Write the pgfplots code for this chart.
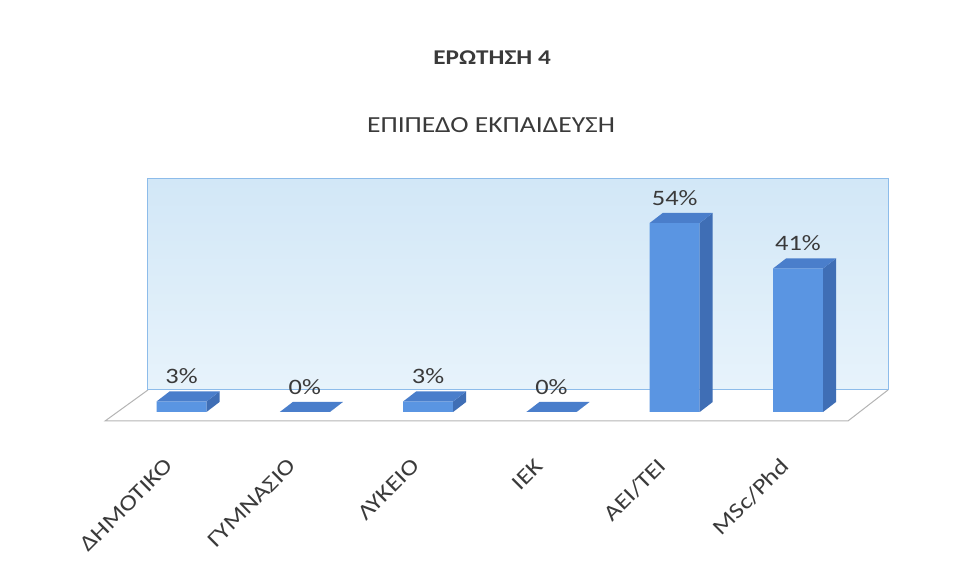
\documentclass[border=0pt]{standalone}
\usepackage{pgfplots}
\pgfplotsset{compat=1.18}
\usepackage{fontspec}
\setmainfont{Carlito}[FakeStretch=1.2]

\definecolor{wallA}{HTML}{D2E7F7}
\definecolor{wallB}{HTML}{E7F3FB}
\definecolor{wallline}{HTML}{8DBCEA}
\definecolor{floorline}{HTML}{B4B4B4}
\definecolor{barfront}{HTML}{5A95E2}
\definecolor{barside}{HTML}{3F6EB5}
\definecolor{bartop}{HTML}{4A7ECB}
\definecolor{txt}{HTML}{3A3A3A}

% top and side faces of a bar, drawn at the bar's top front centre
\pgfdeclareplotmark{bar3d}{%
  \pgfpathmoveto{\pgfqpoint{25pt}{0pt}}%
  \pgfpathlineto{\pgfqpoint{38pt}{10pt}}%
  \pgfpathlineto{\pgfpoint{38pt}{10pt-\barh pt}}%
  \pgfpathlineto{\pgfpoint{25pt}{-\barh pt}}%
  \pgfpathclose
  \pgfsetfillcolor{barside}\pgfusepath{fill}%
  \pgfpathmoveto{\pgfqpoint{-25pt}{0pt}}%
  \pgfpathlineto{\pgfqpoint{25pt}{0pt}}%
  \pgfpathlineto{\pgfqpoint{38pt}{10pt}}%
  \pgfpathlineto{\pgfqpoint{-12pt}{10pt}}%
  \pgfpathclose
  \pgfsetfillcolor{bartop}\pgfusepath{fill}%
}

\pgfplotstableread{
x v
0 3
1 0
2 3
3 0
4 54
5 41
}\edu

\begin{document}
\begin{tikzpicture}
\begin{axis}[
  width=963pt, height=581pt, scale only axis,
  xmin=-1.472, xmax=6.338, ymin=-48.29, ymax=117.71,
  clip=false,
  axis line style={draw=none},
  tick style={draw=none},
  ytick=\empty,
  xtick={0,...,5},
  xticklabels={ΔΗΜΟΤΙΚΟ,ΓΥΜΝΑΣΙΟ,ΛΥΚΕΙΟ,ΙΕΚ,ΑΕΙ/ΤΕΙ,MSc/Phd},
  xticklabel style={font=\fontsize{22}{24}\selectfont, text=txt,
    yshift=121pt, xshift=-10pt, rotate=45, anchor=east},
  /pgf/number format/assume math mode=true,
]
% back wall and floor
\fill[top color=wallA, bottom color=wallB] (axis cs:-0.272,66.57) rectangle (axis cs:5.730,6.29);
\filldraw[fill=white, draw=floorline, line width=1pt]
  (axis cs:-0.272,6.29) -- (axis cs:-0.620,-2.571) -- (axis cs:5.405,-2.571) -- (axis cs:5.730,6.29);
\draw[wallline, line width=1pt] (axis cs:-0.272,6.29) rectangle (axis cs:5.730,66.57);

% front faces
\addplot[ybar, bar width=50pt, bar shift=0pt, fill=barfront, draw=none]
  table[x=x, y=v] {\edu};
% top and side faces, value labels
\addplot[scatter, only marks, mark=bar3d,
  visualization depends on={3.5*\thisrow{v} \as \barh},
  nodes near coords={\pgfmathprintnumber{\pgfplotspointmeta}\%},
  nodes near coords style={anchor=center, yshift=25pt, text=txt,
    font=\fontsize{22}{24}\selectfont}]
  table[x=x, y=v] {\edu};

\node[font=\bfseries\fontsize{21}{24}\selectfont, text=txt] at (rel axis cs:0.511,0.900) {ΕΡΩΤΗΣΗ 4};
\node[font=\fontsize{23}{26}\selectfont, text=txt] at (rel axis cs:0.510,0.785) {ΕΠΙΠΕΔΟ ΕΚΠΑΙΔΕΥΣΗ};
\path (rel axis cs:0,0) rectangle (rel axis cs:1,1);
\end{axis}
\end{tikzpicture}
\end{document}
